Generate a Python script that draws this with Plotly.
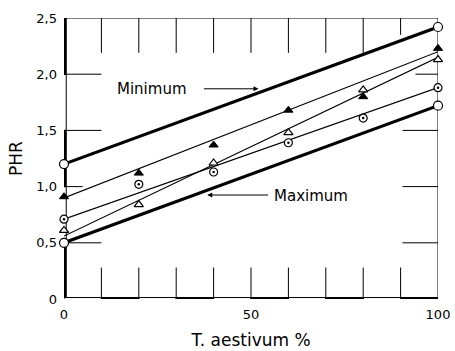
import plotly.graph_objects as go

# ---- data ----
x_pct = [0, 20, 40, 60, 80, 100]
phr_filled_tri = [0.91, 1.12, 1.37, 1.68, 1.80, 2.23]
phr_open_tri = [0.61, 0.84, 1.21, 1.48, 1.86, 2.13]
phr_dot_circle = [0.71, 1.02, 1.13, 1.39, 1.61, 1.88]

line_x = [0, 100]
line_minimum = [1.20, 2.42]
line_maximum = [0.50, 1.72]
fit_filled_tri = [0.90, 2.20]
fit_open_tri = [0.56, 2.15]
fit_dot_circle = [0.71, 1.88]

x_ticks = [0, 50, 100]
x_tick_labels = ["0", "50", "100"]
y_ticks = [0, 0.5, 1.0, 1.5, 2.0, 2.5]
y_tick_labels = ["0", "0,5", "1,0", "1,5", "2,0", "2,5"]

FONT = "DejaVu Sans"
fig = go.Figure()

thin = dict(color="black", width=1.2)
thick = dict(color="black", width=3.2)

fig.add_trace(go.Scatter(x=line_x, y=fit_filled_tri, mode="lines", line=thin, hoverinfo="skip"))
fig.add_trace(go.Scatter(x=line_x, y=fit_open_tri, mode="lines", line=thin, hoverinfo="skip"))
fig.add_trace(go.Scatter(x=line_x, y=fit_dot_circle, mode="lines", line=thin, hoverinfo="skip"))
fig.add_trace(go.Scatter(x=line_x, y=line_minimum, mode="lines", line=thick, hoverinfo="skip"))
fig.add_trace(go.Scatter(x=line_x, y=line_maximum, mode="lines", line=thick, hoverinfo="skip"))

# bounding circles on Minimum / Maximum ends
for ys in (line_minimum, line_maximum):
    fig.add_trace(go.Scatter(x=line_x, y=ys, mode="markers", cliponaxis=False,
                             marker=dict(symbol="circle", size=9, color="white",
                                         line=dict(color="black", width=1.2))))

# dotted circles
fig.add_trace(go.Scatter(x=x_pct, y=phr_dot_circle, mode="markers", cliponaxis=False,
                         marker=dict(symbol="circle", size=8, color="white",
                                     line=dict(color="black", width=1.2))))
fig.add_trace(go.Scatter(x=x_pct, y=phr_dot_circle, mode="markers", cliponaxis=False,
                         marker=dict(symbol="circle", size=2.5, color="black")))
# open triangles
fig.add_trace(go.Scatter(x=x_pct, y=phr_open_tri, mode="markers", cliponaxis=False,
                         marker=dict(symbol="triangle-up", size=8, color="white",
                                     line=dict(color="black", width=1.2))))
# filled triangles
fig.add_trace(go.Scatter(x=x_pct, y=phr_filled_tri, mode="markers", cliponaxis=False,
                         marker=dict(symbol="triangle-up", size=8, color="black",
                                     line=dict(color="black", width=1))))

shapes = []
# frame: top and right thin lines
shapes.append(dict(type="line", xref="x", yref="y", x0=0, x1=100, y0=2.5, y1=2.5,
                   line=dict(color="black", width=1), layer="below"))
shapes.append(dict(type="line", xref="x", yref="y", x0=100, x1=100, y0=0, y1=2.5,
                   line=dict(color="black", width=1), layer="below"))
# left scale bar
left_edges = [0, 0.5, 1.0, 1.5, 2.0, 2.5]
for i in range(len(left_edges) - 1):
    shapes.append(dict(type="rect", xref="x", yref="y", x0=-0.6, x1=0.6,
                       y0=left_edges[i], y1=left_edges[i + 1],
                       fillcolor="black" if i % 2 == 0 else "white",
                       line=dict(color="black", width=1), layer="below"))
# bottom scale bar
bottom_edges = list(range(0, 101, 10))
for i in range(len(bottom_edges) - 1):
    shapes.append(dict(type="rect", xref="x", yref="y", x0=bottom_edges[i], x1=bottom_edges[i + 1],
                       y0=-0.013, y1=0.013,
                       fillcolor="black" if i % 2 == 1 else "white",
                       line=dict(color="black", width=1), layer="below"))
# inner ticks
top_tick_x = [10, 20, 30, 40, 50, 60, 70, 80, 90]
top_tick_len = [0.31, 0.31, 0.31, 0.31, 0.31, 0.31, 0.31, 0.31, 0.15]
for tx, tl in zip(top_tick_x, top_tick_len):
    shapes.append(dict(type="line", xref="x", yref="y", x0=tx, x1=tx, y0=2.5, y1=2.5 - tl,
                       line=dict(color="black", width=1), layer="below"))
for tx in top_tick_x:
    shapes.append(dict(type="line", xref="x", yref="y", x0=tx, x1=tx, y0=0, y1=0.28,
                       line=dict(color="black", width=1), layer="below"))
left_tick_y = [0.5, 1.0, 1.5, 2.0]
left_tick_len = [10, 5, 10, 10]
for ty, tl in zip(left_tick_y, left_tick_len):
    shapes.append(dict(type="line", xref="x", yref="y", x0=0, x1=tl, y0=ty, y1=ty,
                       line=dict(color="black", width=1), layer="below"))
right_tick_len = [9.5, 9.5, 9.5, 6]
for ty, tl in zip(left_tick_y, right_tick_len):
    shapes.append(dict(type="line", xref="x", yref="y", x0=100, x1=100 - tl, y0=ty, y1=ty,
                       line=dict(color="black", width=1), layer="below"))

annotations = [
    dict(x=23.5, y=1.87, xref="x", yref="y", text="Minimum", showarrow=False,
         font=dict(family=FONT, size=15, color="black")),
    dict(x=52, y=1.87, ax=37, ay=1.87, xref="x", yref="y", axref="x", ayref="y",
         text="", showarrow=True, arrowhead=2, arrowsize=1, arrowwidth=1, arrowcolor="black"),
    dict(x=66, y=0.92, xref="x", yref="y", text="Maximum", showarrow=False,
         font=dict(family=FONT, size=15, color="black")),
    dict(x=38.3, y=0.925, ax=55, ay=0.925, xref="x", yref="y", axref="x", ayref="y",
         text="", showarrow=True, arrowhead=2, arrowsize=1, arrowwidth=1, arrowcolor="black"),
]

fig.update_layout(
    width=455, height=351,
    margin=dict(l=64, r=17, t=18, b=52),
    paper_bgcolor="white", plot_bgcolor="white",
    showlegend=False,
    shapes=shapes, annotations=annotations,
    font=dict(family=FONT, color="black"),
    xaxis=dict(range=[0, 100], tickvals=x_ticks, ticktext=x_tick_labels,
               showgrid=False, zeroline=False, showline=False, ticks="",
               ticklabelstandoff=6, tickfont=dict(size=13),
               title=dict(text="T. aestivum %", font=dict(size=17), standoff=13),
               automargin=False),
    yaxis=dict(range=[0, 2.5], tickvals=y_ticks, ticktext=y_tick_labels,
               showgrid=False, zeroline=False, showline=False, ticks="",
               ticklabelstandoff=6, tickfont=dict(size=13),
               title=dict(text="PHR", font=dict(size=17), standoff=9),
               automargin=False),
)

fig.write_html("out.html")
